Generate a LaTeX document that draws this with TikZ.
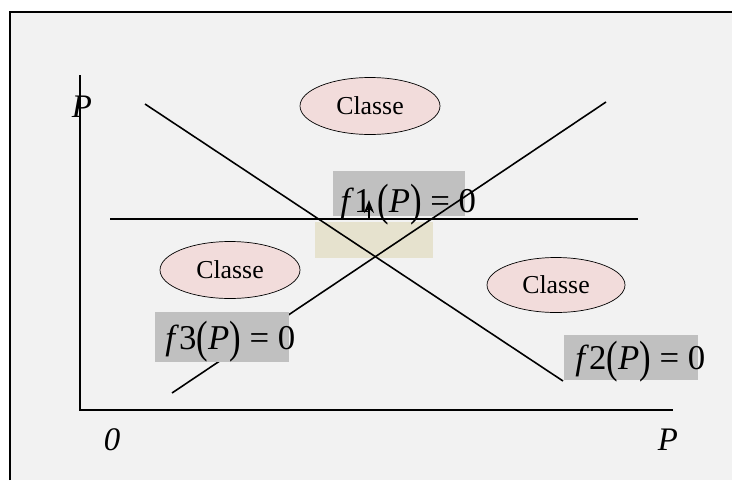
\documentclass[tikz,border=0pt]{standalone}
\usepackage{graphicx}
\usepackage{fontspec}
\setmainfont{Liberation Serif}
\usetikzlibrary{arrows.meta,shapes.geometric}

\definecolor{bggray}{RGB}{242,242,242}
\definecolor{boxgray}{RGB}{192,192,192}
\definecolor{classepink}{RGB}{242,220,219}
\definecolor{zonetan}{RGB}{230,226,206}

\newcommand{\bigparen}[1]{\raisebox{-0.1em}{\scalebox{1}[1.3]{#1}}}
\newcommand{\fzero}[1]{\textit{f}#1\bigparen{(}\textit{P}\bigparen{)} = 0}

\begin{document}
\begin{tikzpicture}[x=0.02cm, y=-0.02cm, >={Stealth[length=2.6mm,width=2mm]},
  classe/.style={draw, ellipse, fill=classepink, inner sep=0pt, minimum width=2.8cm, minimum height=1.14cm, font=\fontsize{14.7}{16}\selectfont},
  eqbox/.style={fill=boxgray, inner sep=0pt, minimum width=2.68cm, minimum height=0.9cm},
  eqtext/.style={anchor=base west, inner sep=0pt, font=\fontsize{19.8}{22}\selectfont},
  axlabel/.style={anchor=base, inner sep=0pt, font=\fontsize{18.7}{20}\selectfont\itshape}]

\useasboundingbox (0,0) rectangle (732,480);

% Frame and background
\fill[bggray] (10,12) rectangle (732,480);
\draw[line width=1.3pt] (10,480) -- (10,12) -- (732,12);

% Shaded zone and the box behind f1
\node[fill=zonetan, inner sep=0pt, minimum width=2.36cm, minimum height=0.72cm] (zone) at (374,240) {};
\node[eqbox, minimum width=2.64cm] (box1) at (399,193) {};

% Axes
\coordinate (O) at (80,410);
\coordinate (ytop) at (80,75);
\coordinate (xend) at (673,410);
\draw[line width=1.1pt] (ytop) -- (O) -- (xend);

% Separating lines
\coordinate (A1) at (145,104);
\coordinate (A2) at (563,381);
\coordinate (B1) at (172,393);
\coordinate (B2) at (606,102);
\coordinate (H1) at (110,219);
\coordinate (H2) at (638,219);
\draw[line width=0.9pt] (A1) -- (A2);
\draw[line width=0.9pt] (B1) -- (B2);
\draw[line width=0.9pt] (H1) -- (H2);

% Normal arrow on f1
\coordinate (arr) at (369,219);
\coordinate (arrtip) at (369,200);
\draw[->, line width=0.9pt] (arr) -- (arrtip);

% Boxes of f3 and f2
\node[eqbox, minimum height=1.0cm] (box3) at (222,337) {};
\node[eqbox] (box2) at (631,357) {};

% Classes
\node[classe] (C1) at (370,106) {Classe};
\node[classe] (C2) at (230,270) {Classe};
\node[classe, minimum width=2.76cm, minimum height=1.1cm] (C3) at (556,285) {Classe};

% Equations
\node[eqtext] (eq1) at (340,212) {\textit{f}1\,\bigparen{(}\textit{P}\bigparen{)} = 0};
\node[eqtext] (eq3) at (165,349) {\fzero{3}};
\node[eqtext] (eq2) at (575,369) {\fzero{2}};

% Axis labels
\node[axlabel] (Py) at (82,117) {P};
\node[axlabel] (zero) at (112,450) {0};
\node[axlabel] (Px) at (668,450) {P};

\end{tikzpicture}
\end{document}
